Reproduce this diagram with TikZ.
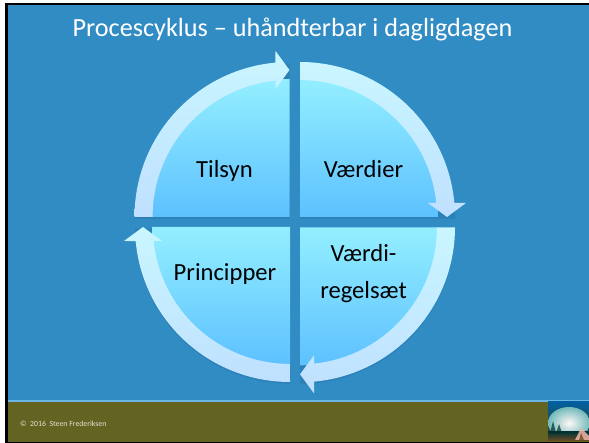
\documentclass[tikz,border=0pt]{standalone}
\usepackage{fontspec}
\setmainfont{Carlito}
\definecolor{slide}{HTML}{318CC4}
\definecolor{strip}{HTML}{6CB6E6}
\definecolor{olive}{HTML}{636421}
\definecolor{wedgetop}{HTML}{93EFFF}
\definecolor{wedgebot}{HTML}{5DC1FF}
\definecolor{bandtop}{HTML}{C9F6FF}
\definecolor{bandbot}{HTML}{BFE0FF}
\definecolor{shadowc}{HTML}{1A5A86}
\tikzset{
  wedgefill/.style={top color=wedgetop,bottom color=wedgebot},
  bandfill/.style={top color=bandtop,bottom color=bandbot},
  softshadow/.style={fill=shadowc,fill opacity=.22,draw=none},
  label/.style={font=\fontsize{24.6}{30}\selectfont,text=black,inner sep=0pt,anchor=base},
}
\newcommand{\wedgepath}{(0,0) -- (90:138) arc[start angle=90,end angle=0,radius=138] -- cycle}
\newcommand{\bandpath}{(90:155) arc[start angle=90,end angle=5.2,radius=155] -- (166,14) -- (147,0) -- (128,14) -- (136.3,14) arc[start angle=5.9,end angle=90,radius=137] -- cycle}
\newcommand{\quadrant}[3]{%
  \begin{scope}[shift={(#1,#2)},rotate=#3]
    \shade[wedgefill] \wedgepath;
    \shade[bandfill] \bandpath;
  \end{scope}}
\begin{document}
\begin{tikzpicture}[x=1pt,y=1pt]
\useasboundingbox (0,0) rectangle (589,443);
\fill[white] (0,0) rectangle (589,443);
\fill[black] (5,0) rectangle (589,440);
\fill[slide] (8,43) rectangle (589,438);
\fill[strip] (8,41) rectangle (589,43);
\fill[olive] (8,1) rectangle (589,41);
% drop shadows
\begin{scope}[yshift=-1.6pt]
  \fill[softshadow] (300,226) ++(90:155) arc[start angle=90,end angle=0,radius=155] -- (300,226) -- cycle;
  \fill[softshadow] (300,215.7) ++(0:155) arc[start angle=0,end angle=-90,radius=155] -- (300,215.7) -- cycle;
  \fill[softshadow] (290,216) ++(-90:155) arc[start angle=-90,end angle=-180,radius=155] -- (290,216) -- cycle;
  \fill[softshadow] (289.5,226) ++(180:155) arc[start angle=180,end angle=90,radius=155] -- (289.5,226) -- cycle;
\end{scope}
\quadrant{300}{226}{0}
\quadrant{300}{215.7}{-90}
\quadrant{290}{216}{-180}
\quadrant{289.5}{226}{-270}
% texts
\node[text=white,inner sep=0pt,anchor=base,font=\fontsize{26.2}{30}\selectfont] (title) at (292.5,406) {Procescyklus – uhåndterbar i dagligdagen};
\node[label] (tilsyn) at (224.5,265.5) {Tilsyn};
\node[label] (vaerdier) at (363.5,265.5) {Værdier};
\node[label] (principper) at (225,162) {Principper};
\node[label] (regelA) at (363.5,181) {Værdi-};
\node[label] (regelB) at (363.5,144.5) {regelsæt};
\node[anchor=base west,inner sep=0pt,text=white!82!olive,font=\fontsize{7.8}{9}\selectfont] (copy) at (20,16.5) {©\ \ 2016\ \ Steen Frederiksen};
% logo
\begin{scope}
  \clip (548,2) rectangle (589,41);
  \shade[top color=teal!75!blue,bottom color=olive!60!black] (548,2) rectangle (589,41);
  \shade[inner color=white!88!pink,outer color=teal!55!white] (569,20) ellipse (21 and 16);
  \shade[top color=black!60!teal,bottom color=brown!60!black] (548,2) rectangle (589,11);
  \fill[black!65!teal,opacity=.7] (550,10) -- (553,22) -- (556,10) -- (559,19) -- (562,10) -- cycle;
  \fill[red!22!white!78!brown,opacity=.85] (575,3) -- (581,15) -- (589,7) -- (589,3) -- cycle;
  \fill[brown!60!black,opacity=.8] (579,3) -- (581,10) -- (584,3) -- cycle;
\end{scope}
\end{tikzpicture}
\end{document}
